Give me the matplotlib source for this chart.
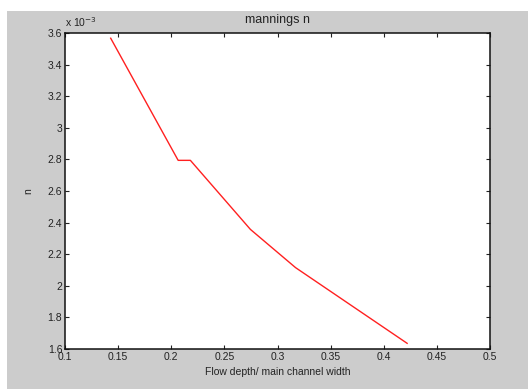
import matplotlib.pyplot as plt
from matplotlib.patches import Rectangle
from matplotlib.ticker import FuncFormatter

# flow depth / main channel width vs mannings n
depth_ratio = [0.143, 0.2065, 0.218, 0.2745, 0.317, 0.422]
mannings_n = [3.567e-3, 2.794e-3, 2.794e-3, 2.357e-3, 2.115e-3, 1.636e-3]

x_ticks = [0.1, 0.15, 0.2, 0.25, 0.3, 0.35, 0.4, 0.45, 0.5]
y_ticks = [1.6e-3, 1.8e-3, 2.0e-3, 2.2e-3, 2.4e-3, 2.6e-3, 2.8e-3, 3.0e-3, 3.2e-3, 3.4e-3, 3.6e-3]

plt.rcParams['font.family'] = ['Liberation Sans', 'DejaVu Sans']
plt.rcParams['font.size'] = 7.5

fig = plt.figure(figsize=(5.28, 3.89), dpi=100, facecolor='white')
fig.patches.append(Rectangle((7 / 528, 0), 1, 1 - 11 / 389, transform=fig.transFigure,
                             facecolor='#cccccc', edgecolor='none', zorder=-10))

ax = fig.add_axes([65 / 528, 1 - 349 / 389, 425 / 528, 316 / 389])
ax.plot(depth_ratio, mannings_n, color='#ff2020', linewidth=1.0)

ax.set_xlim(0.1, 0.5)
ax.set_ylim(1.6e-3, 3.6e-3)
ax.set_xticks(x_ticks)
ax.set_yticks(y_ticks)
ax.xaxis.set_major_formatter(FuncFormatter(lambda v, p: f'{v:g}'))
ax.yaxis.set_major_formatter(FuncFormatter(lambda v, p: f'{round(v * 1e3, 2):g}'))
ax.tick_params(direction='in', top=True, right=True, length=3, width=0.8, pad=2,
               colors='#222222')
for s in ax.spines.values():
    s.set_linewidth(1.1)
    s.set_color('#111111')

ax.text(0.0, 1.012, r'x 10$^{-3}$', transform=ax.transAxes, ha='left', va='bottom',
        color='#222222')
ax.set_title('mannings n', pad=7, color='#222222')
ax.set_xlabel('Flow depth/ main channel width', labelpad=4, color='#222222')
ax.set_ylabel('n', labelpad=10, color='#222222')

fig.savefig('out.png', dpi=100, facecolor=fig.get_facecolor())
